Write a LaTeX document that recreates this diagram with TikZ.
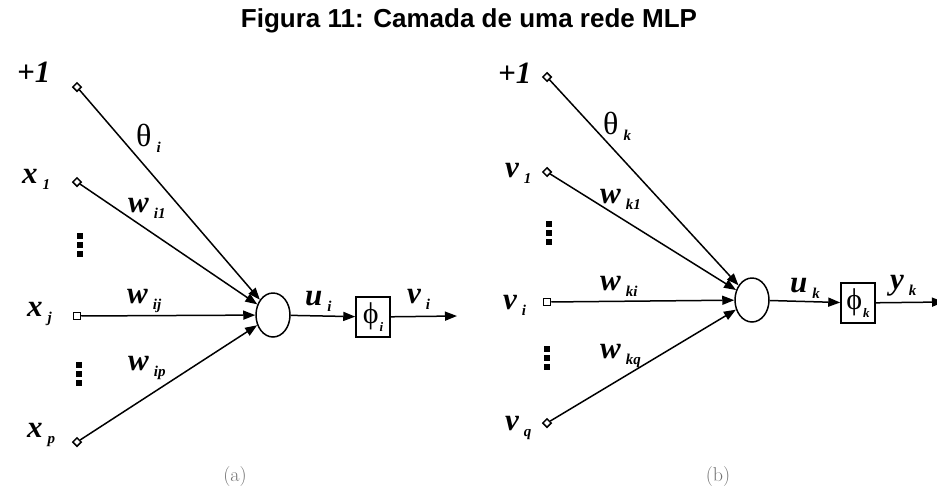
\documentclass[tikz,border=0pt]{standalone}
\usepackage{fontspec}
\setmainfont{Liberation Serif}
\newfontfamily\titlefont{Liberation Sans}
\newfontfamily\capfont{Latin Modern Roman}
\usetikzlibrary{arrows.meta,shapes.geometric}
\newcommand{\mainlab}[2]{{\fontsize{31}{31}\selectfont\bfseries\itshape #1}\hspace{5pt}\raisebox{-6pt}{\fontsize{15}{15}\selectfont\bfseries\itshape #2}}
\newcommand{\greeklab}[2]{{\fontsize{32}{32}\selectfont #1}\hspace{5pt}\raisebox{-6pt}{\fontsize{15}{15}\selectfont\bfseries\itshape #2}}
\newcommand{\boxlab}[2]{{\fontsize{30}{30}\selectfont #1}\hspace{1pt}\raisebox{-8pt}{\fontsize{13}{13}\selectfont\bfseries\itshape #2}}
\begin{document}
\begin{tikzpicture}[x=1pt,y=-1pt,
  inp/.style={draw, diamond, inner sep=0pt, minimum size=9pt, line width=1.5pt, fill=white},
  inpsq/.style={draw, rectangle, inner sep=0pt, minimum size=7pt, line width=1.5pt, fill=white},
  neuron/.style={draw, ellipse, inner sep=0pt, minimum width=34pt, minimum height=44pt, line width=1.5pt},
  actbox/.style={draw, rectangle, inner sep=0pt, minimum width=34pt, minimum height=40pt, line width=1.5pt},
  conn/.style={line width=1.5pt, -{Triangle[length=12pt,width=9pt]}},
  lbl/.style={anchor=base west, inner sep=0pt},
  vdots/.style={line width=6pt, dash pattern=on 6pt off 3pt},
  caplab/.style={text=black!55, font=\capfont\fontsize{20}{20}\selectfont}
]
\useasboundingbox (0,0) rectangle (937,488);
% title
\node[font=\titlefont\bfseries\fontsize{26}{26}\selectfont] (title) at (469,21) {Figura 11: Camada de uma rede MLP};

% ---------- panel (a) ----------
\node[inp]   (a0) at (77,87)  {};
\node[inp]   (a1) at (77,182) {};
\node[inpsq] (aj) at (77,316) {};
\node[inp]   (ap) at (77,442) {};
\node[neuron] (an) at (273,315) {};
\node[actbox] (ab) at (373,317) {\boxlab{ϕ}{i}};
\coordinate (aout) at (457,316);

\node[lbl] (la0) at (17,82)   {\mainlab{+1}{}};
\node[lbl] (la1) at (22,183)  {\mainlab{x}{1}};
\node[lbl] (laj) at (27,316)  {\mainlab{x}{j}};
\node[lbl] (lap) at (27,437)  {\mainlab{x}{p}};
\node[lbl] (lt)  at (136,146) {\greeklab{θ}{i}};
\node[lbl] (lw1) at (128,212) {\mainlab{w}{i1}};
\node[lbl] (lwj) at (127,303) {\mainlab{w}{ij}};
\node[lbl] (lwp) at (128,370) {\mainlab{w}{ip}};
\node[lbl] (lu)  at (305,305) {\mainlab{u}{i}};
\node[lbl] (lv)  at (407,303) {\mainlab{v}{i}};

\draw[vdots] (80,233) -- (80,259);
\draw[vdots] (79,362) -- (79,388);

\draw[conn] (a0) -- (an);
\draw[conn] (a1) -- (an);
\draw[conn] (aj) -- (an);
\draw[conn] (ap) -- (an);
\draw[conn] (an) -- (ab);
\draw[conn] (ab) -- (aout);
\node[caplab] (capa) at (235,477) {(a)};

% ---------- panel (b) ----------
\node[inp]   (b0) at (547,77)  {};
\node[inp]   (b1) at (547,172) {};
\node[inpsq] (bi) at (547,302) {};
\node[inp]   (bq) at (547,423) {};
\node[neuron] (bn) at (752,300) {};
\node[actbox] (bb) at (858,303) {\boxlab{ϕ}{k}};
\coordinate (bout) at (944,302);

\node[lbl] (lb0) at (498,83)  {\mainlab{+1}{}};
\node[lbl] (lb1) at (505,177) {\mainlab{v}{1}};
\node[lbl] (lbi) at (503,309) {\mainlab{v}{i}};
\node[lbl] (lbq) at (505,430) {\mainlab{v}{q}};
\node[lbl] (ltk) at (603,134) {\greeklab{θ}{k}};
\node[lbl] (lk1) at (600,203) {\mainlab{w}{k1}};
\node[lbl] (lki) at (600,290) {\mainlab{w}{ki}};
\node[lbl] (lkq) at (600,358) {\mainlab{w}{kq}};
\node[lbl] (luk) at (790,292) {\mainlab{u}{k}};
\node[lbl] (lyk) at (890,289) {\mainlab{y}{k}};

\draw[vdots] (549,221) -- (549,247);
\draw[vdots] (547,346) -- (547,372);

\draw[conn] (b0) -- (bn);
\draw[conn] (b1) -- (bn);
\draw[conn] (bi) -- (bn);
\draw[conn] (bq) -- (bn);
\draw[conn] (bn) -- (bb);
\draw[conn] (bb) -- (bout);
\node[caplab] (capb) at (718,477) {(b)};
\end{tikzpicture}
\end{document}
